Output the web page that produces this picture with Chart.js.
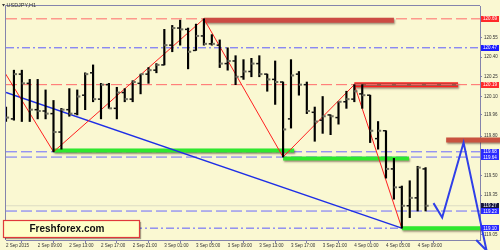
<!DOCTYPE html>
<html>
<head>
<meta charset="utf-8">
<script src="https://cdn.jsdelivr.net/npm/chart.js"></script>
<style>
  html, body { margin: 0; padding: 0; background: #faf8d2; }
  #chart { display: block; }
</style>
</head>
<body>
<canvas id="chart" width="500" height="250"></canvas>
<script>
// USDJPY H1, 2 Sep 05:00 .. 4 Sep 10:00 (one entry per hourly bar)
const open = [119.99,119.93,120.27,120.20,120.00,119.99,119.97,119.83,120.00,119.97,
  120.11,120.28,120.08,120.19,120.01,120.13,120.08,120.20,120.27,120.30,
  120.34,120.49,120.62,120.61,120.45,120.56,120.50,120.49,120.35,120.37,
  120.25,120.29,120.35,120.27,120.23,120.21,119.93,120.27,120.19,119.98,
  119.92,119.96,119.94,120.06,120.08,120.12,120.11,119.78,119.84,119.55,
  119.41,119.27,119.33,119.55];
const high = [120.02,120.30,120.30,120.23,120.23,120.15,120.07,120.01,120.16,120.15,
  120.28,120.34,120.20,120.20,120.17,120.16,120.22,120.27,120.32,120.35,
  120.61,120.64,120.68,120.62,120.65,120.69,120.57,120.53,120.47,120.41,
  120.38,120.39,120.41,120.27,120.37,120.21,120.38,120.29,120.21,120.02,
  120.10,119.96,120.06,120.14,120.19,120.19,120.11,119.91,119.84,119.63,
  119.42,119.46,119.57,119.56];
const low = [119.91,119.92,119.91,119.91,119.93,119.93,119.68,119.70,119.95,119.96,
  120.00,120.06,119.93,120.01,119.93,120.06,120.06,120.12,120.20,120.28,
  120.34,120.44,120.49,120.31,120.45,120.49,120.49,120.32,120.30,120.19,
  120.23,120.25,120.25,120.14,120.04,119.64,119.86,120.11,119.97,119.76,
  119.82,119.81,119.89,120.01,120.06,120.01,119.75,119.70,119.48,119.32,
  119.10,119.18,119.23,119.23];
const close = [119.94,120.27,120.20,120.00,119.99,119.97,119.83,120.00,119.97,120.10,
  120.27,120.08,120.19,120.01,120.13,120.08,120.21,120.27,120.30,120.34,
  120.49,120.62,120.61,120.44,120.56,120.50,120.50,120.35,120.37,120.25,
  120.29,120.35,120.27,120.23,120.21,119.85,120.26,120.19,119.99,119.91,
  119.95,119.95,120.06,120.08,120.14,120.11,119.84,119.84,119.55,119.41,
  119.27,119.33,119.56,119.27];

// time axis labels (every 4th bar)
const xLabelBars = [0,4,8,12,16,20,24,28,32,36,40,44,48,52];
const xLabels = ["2 Sep 2015","2 Sep 09:00","2 Sep 13:00","2 Sep 17:00","2 Sep 21:00",
  "3 Sep 01:00","3 Sep 05:00","3 Sep 09:00","3 Sep 13:00","3 Sep 17:00","3 Sep 21:00",
  "4 Sep 01:00","4 Sep 05:00","4 Sep 09:00"];
const yTicks = [120.55,120.40,120.25,120.10,119.96,119.80,119.50,119.35,119.05];

// horizontal levels with price tags on the axis
const levelPrices = [120.69,120.47,120.19,119.68,119.64,119.27,119.23,119.10];
const levelKinds = ["res","mid","res","sup","sup","bid","sup2","low"];

// zigzag pivots and trend line
const zigzagBars = [-3,6,25,35,44,50];
const zigzagPrices = [120.56,119.68,120.69,119.64,120.19,119.10];
const trendBars = [0,50];
const trendPrices = [120.13,119.10];

// thick zone segments
const zoneFrom = [25,44,6,35,50,55.6];
const zoneTo = [49,57.1,36.4,50.9,59.875,62.4];
const zonePrices = [120.68,120.19,119.69,119.63,119.10,119.77];
const zoneKinds = ["red","redBox","green","green","green","target"];

// forecast arrow
const projBars = [54,55.1,57.8,60.7];
const projPrices = [119.29,119.18,119.75,118.93];
const headBars = [59.4,60.7,62.4];
const headPrices = [119.01,118.93,119.08];

const X_MIN = 0, X_MAX = 59.875;
const Y_MIN = 119.01, Y_MAX = 120.7875;
const BG = "#faf8d2";
const AXIS = "#8484ac";
const FONT = "Liberation Sans";

const levelStyle = {
  res:  { color: "#ff6a6a", dash: [11,4], tag: "#ff2a2a" },
  mid:  { color: "#5a5aff", dash: [8,3,2,3], tag: "#1c1cff" },
  sup:  { color: "#6a6aff", dash: [11,4], tag: "#2a2aff" },
  sup2: { color: "#6a6aff", dash: [11,4], tag: "#2a2aff" },
  low:  { color: "#5a5aff", dash: [8,3,2,3], tag: "#2a2aff" },
  bid:  { color: "#dcdcc4", dash: [], tag: "#15153a" }
};
const zoneStyle = {
  red:    { color: "#cc4b44", width: 5 },
  redBox: { color: "#ff1e1e", width: 5 },
  green:  { color: "#2ee82e", width: 4 },
  target: { color: "#c9523f", width: 5 }
};

const idx = open.map((_, i) => i);
const datasets = [];

// OHLC: open ticks, close ticks, high-low bars
datasets.push({
  type: "scatter", order: 20,
  data: idx.map(i => ({ x: i - 0.19, y: open[i] })),
  pointStyle: "line", pointRadius: 1.6, borderWidth: 1.5,
  borderColor: "#111", backgroundColor: "#111"
});
datasets.push({
  type: "scatter", order: 20,
  data: idx.map(i => ({ x: i + 0.19, y: close[i] })),
  pointStyle: "line", pointRadius: 1.6, borderWidth: 2,
  borderColor: "#6e6e60", backgroundColor: "#6e6e60"
});
datasets.push({
  type: "bar", order: 25,
  data: idx.map(i => ({ x: i, y: [low[i], high[i]] })),
  backgroundColor: "#000", borderWidth: 0, barThickness: 1.5
});

// zigzag + trend
datasets.push({
  type: "line", order: 30,
  data: zigzagBars.map((b, i) => ({ x: b, y: zigzagPrices[i] })),
  borderColor: "#ff2020", borderWidth: 1, pointRadius: 0, tension: 0
});
datasets.push({
  type: "line", order: 30,
  data: trendBars.map((b, i) => ({ x: b, y: trendPrices[i] })),
  borderColor: "#1e2ee6", borderWidth: 1.5, pointRadius: 0, tension: 0
});

// levels (dashed lines)
levelPrices.forEach((p, i) => {
  const st = levelStyle[levelKinds[i]];
  datasets.push({
    type: "line", order: levelKinds[i] === "res" && p < 120.5 ? 35 : 60,
    data: [{ x: X_MIN, y: p }, { x: X_MAX, y: p }],
    borderColor: st.color, borderWidth: 1, borderDash: st.dash, pointRadius: 0
  });
});

// zones (thick bars with shadow)
zonePrices.forEach((p, i) => {
  const st = zoneStyle[zoneKinds[i]];
  datasets.push({
    type: "line", order: 50, clip: false, shadow: true,
    data: [{ x: zoneFrom[i], y: p }, { x: zoneTo[i], y: p }],
    borderColor: st.color, borderWidth: st.width, pointRadius: 0, borderCapStyle: "butt"
  });
  if (zoneKinds[i] === "redBox") {
    datasets.push({
      type: "line", order: 49, clip: false,
      data: [{ x: zoneFrom[i], y: p }, { x: zoneTo[i], y: p }],
      borderColor: "#9c5548", borderWidth: 2.5, pointRadius: 0, borderCapStyle: "butt"
    });
  }
});

// forecast arrow
datasets.push({
  type: "line", order: 5, clip: false,
  data: projBars.map((b, i) => ({ x: b, y: projPrices[i] })),
  borderColor: "#2f3fe8", borderWidth: 2, pointRadius: 0, tension: 0
});
datasets.push({
  type: "line", order: 5, clip: false,
  data: headBars.map((b, i) => ({ x: b, y: headPrices[i] })),
  borderColor: "#2f3fe8", borderWidth: 2, pointRadius: 0, tension: 0
});

const decorPlugin = {
  id: "decor",
  beforeDraw(chart) {
    const c = chart.ctx;
    c.save();
    c.fillStyle = BG;
    c.fillRect(0, 0, chart.width, chart.height);
    c.restore();
  },
  beforeDatasetDraw(chart, args) {
    const ds = chart.data.datasets[args.index];
    if (ds.shadow) {
      const c = chart.ctx;
      c.save();
      c.shadowColor = "rgba(70,40,30,0.5)";
      c.shadowBlur = 2;
      c.shadowOffsetX = 1;
      c.shadowOffsetY = 1.5;
    }
  },
  afterDatasetDraw(chart, args) {
    if (chart.data.datasets[args.index].shadow) chart.ctx.restore();
  },
  afterDraw(chart) {
    const c = chart.ctx;
    const a = chart.chartArea;
    const ys = chart.scales.y;
    c.save();
    // frame top/left
    c.strokeStyle = AXIS;
    c.lineWidth = 1;
    c.beginPath();
    c.moveTo(a.left - 0.5, a.bottom);
    c.lineTo(a.left - 0.5, a.top - 0.5);
    c.lineTo(a.right, a.top - 0.5);
    c.stroke();

    // price tags
    c.font = "4.5px " + FONT;
    c.textAlign = "center";
    c.textBaseline = "middle";
    levelPrices.forEach((p, i) => {
      const y = ys.getPixelForValue(p);
      c.fillStyle = levelStyle[levelKinds[i]].tag;
      c.fillRect(a.right + 1, Math.round(y) - 3, 18, 6);
      c.fillStyle = "#fff";
      c.fillText(p.toFixed(2), a.right + 10, y + 0.3);
    });

    // title
    c.fillStyle = "#333";
    c.beginPath();
    c.moveTo(2, 4); c.lineTo(5, 4); c.lineTo(3.5, 6.5); c.closePath();
    c.fill();
    c.font = "5.5px " + FONT;
    c.textAlign = "left";
    c.fillText("USDJPY,H1", 6.5, 5.5);

    // watermark box
    c.shadowColor = "rgba(0,0,0,0.35)";
    c.shadowOffsetX = 1.5; c.shadowOffsetY = 1.5; c.shadowBlur = 1;
    c.fillStyle = "#ffffc8";
    c.fillRect(3.5, 220.5, 136, 17);
    c.shadowColor = "transparent";
    c.strokeStyle = "#e03a3a";
    c.lineWidth = 1.2;
    c.strokeRect(3.5, 220.5, 136, 17);
    c.fillStyle = "#111";
    c.font = "bold 10px " + FONT;
    c.textAlign = "center";
    c.fillText("Freshforex.com", 67, 229.5);
    c.restore();
  }
};

new Chart(document.getElementById("chart"), {
  type: "line",
  data: { datasets },
  options: {
    responsive: false,
    animation: false,
    events: [],
    layout: { padding: { top: 3, left: 1, right: 0, bottom: 0 } },
    plugins: { legend: { display: false }, tooltip: { enabled: false } },
    scales: {
      x: {
        type: "linear", min: X_MIN, max: X_MAX, offset: false,
        afterBuildTicks: s => { s.ticks = xLabelBars.map(v => ({ value: v })); },
        afterFit: s => { s.height = 10; },
        grid: { drawOnChartArea: false, drawTicks: true, tickLength: 3, color: AXIS },
        border: { display: true, color: AXIS },
        ticks: {
          align: "start", padding: 0, maxRotation: 0, autoSkip: false,
          font: { size: 4.5, family: FONT }, color: "#333",
          callback: (v, i) => xLabels[i]
        }
      },
      y: {
        type: "linear", position: "right", min: Y_MIN, max: Y_MAX,
        afterBuildTicks: s => { s.ticks = yTicks.map(v => ({ value: v })); },
        afterFit: s => { s.width = 20; },
        grid: { drawOnChartArea: false, drawTicks: true, tickLength: 2, color: AXIS },
        border: { display: true, color: AXIS },
        ticks: {
          padding: 2, font: { size: 4.5, family: FONT }, color: "#333",
          callback: v => Number(v).toFixed(2)
        }
      }
    }
  },
  plugins: [decorPlugin]
});
</script>
</body>
</html>
